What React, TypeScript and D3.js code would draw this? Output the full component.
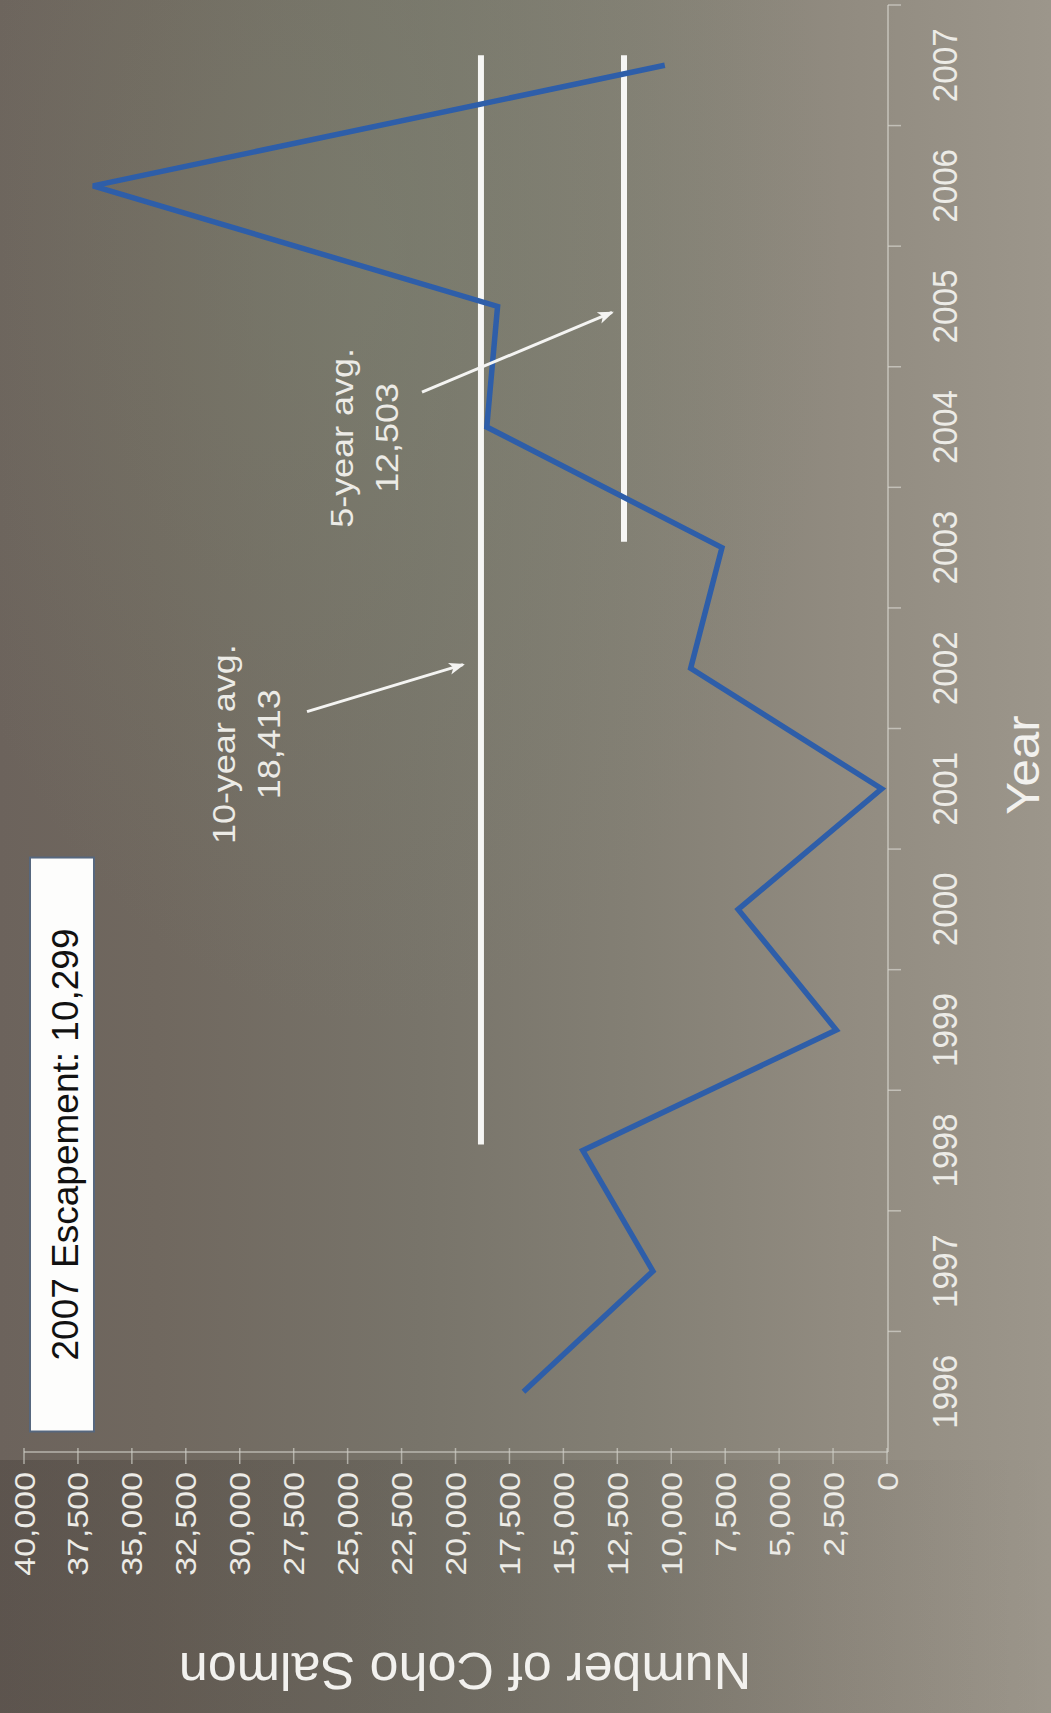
import React from "react";
import * as d3 from "d3";

// ---------- data ----------
const years = [1996, 1997, 1998, 1999, 2000, 2001, 2002, 2003, 2004, 2005, 2006, 2007];
const escapement = [16850, 10850, 14100, 2350, 6900, 250, 9100, 7650, 18550, 18050, 36800, 10299];
const valueTicks = d3.range(0, 40001, 2500);
const avgNames = ["10-year avg.", "5-year avg."];
const avgValueText = ["18,413", "12,503"];
const avgLevelDrawn = [18820, 12190];
const avgStartYear = [1998, 2003];
const avgEndYear = [2007, 2007];
const boxText = "2007 Escapement: 10,299";
const valueTitle = "Number of Coho Salmon";
const yearTitle = "Year";

// ---------- layout ----------
const W = 1051;
const H = 1713;
const FONT = "'Liberation Sans', Arial, Helvetica, sans-serif";

const xVal = d3.scaleLinear().domain([0, 40000]).range([887, 24]);
const yBand = d3.scaleBand<number>().domain(years).range([1452, 5]);
const yLin = d3.scaleLinear().domain([1995.5, 2007.5]).range([1452, 5]);
const bw = yBand.bandwidth();
const yMid = (yr: number) => (yBand(yr) as number) + bw / 2;

const fmt = d3.format(",");

type RTProps = {
  x: number; y: number; angle?: number; sx?: number; fs: number;
  anchor?: string; fill?: string; dy?: string; children: React.ReactNode;
};
const RText = ({ x, y, angle = -90, sx = 1, fs, anchor = "middle", fill = "#ecebe6", dy, children }: RTProps) => (
  <text
    transform={`translate(${x},${y}) rotate(${angle}) scale(${sx},1)`}
    fontSize={fs}
    textAnchor={anchor}
    fill={fill}
    dy={dy}
    fontFamily={FONT}
  >
    {children}
  </text>
);

export default function App() {
  const line = d3
    .line<number>()
    .x((d) => xVal(d))
    .y((_, i) => yMid(years[i]));

  const axisY = 1452;
  const axisX = 888;

  // annotation anchors (data space)
  const ann = [
    { textYear: 2001.37, base1: 30220, base2: 28135, from: [26883, 2001.64], to: [19652, 2002.03] },
    { textYear: 2003.91, base1: 24750, base2: 22665, from: [21553, 2004.29], to: [12746, 2004.95] },
  ];

  return (
    <div style={{ position: "absolute", left: 0, top: 0 }}>
      <svg width={W} height={H} style={{ display: "block" }}>
        <defs>
          <linearGradient id="bgH" x1="0" y1="0" x2="1" y2="0">
            <stop offset="0" stopColor="#6c635c" />
            <stop offset="0.15" stopColor="#70685f" />
            <stop offset="0.4" stopColor="#78746a" />
            <stop offset="0.6" stopColor="#837f74" />
            <stop offset="0.8" stopColor="#918b80" />
            <stop offset="1" stopColor="#9c968b" />
          </linearGradient>
          <radialGradient id="greenTint" cx="0.35" cy="0.15" r="0.45">
            <stop offset="0" stopColor="#7f8a74" stopOpacity="0.35" />
            <stop offset="1" stopColor="#7f8a74" stopOpacity="0" />
          </radialGradient>
          <linearGradient id="bottomFade" x1="0" y1="0" x2="1" y2="0">
            <stop offset="0" stopColor="#1e1915" stopOpacity="0.2" />
            <stop offset="0.6" stopColor="#1e1915" stopOpacity="0.1" />
            <stop offset="1" stopColor="#1e1915" stopOpacity="0" />
          </linearGradient>
          <marker id="arrow" markerUnits="userSpaceOnUse" markerWidth="16" markerHeight="14"
            refX="14" refY="7" orient="auto">
            <path d="M0,1 L16,7 L0,13 L4,7 Z" fill="#f4f4f2" />
          </marker>
        </defs>

        {/* background */}
        <rect x={0} y={0} width={W} height={H} fill="url(#bgH)" />
        <rect x={0} y={0} width={W} height={H} fill="url(#greenTint)" />
        <rect x={0} y={1460} width={W} height={H - 1460} fill="url(#bottomFade)" />

        {/* value axis (horizontal on screen) */}
        <line x1={xVal(0) + 1} x2={xVal(40000)} y1={axisY} y2={axisY} stroke="#cfcdc6" strokeOpacity={0.75} strokeWidth={1.5} />
        {valueTicks.map((v) => (
          <line key={"vt" + v} x1={xVal(v)} x2={xVal(v)} y1={axisY - 4} y2={axisY + 12}
            stroke="#cfcdc6" strokeOpacity={0.7} strokeWidth={1.5} />
        ))}
        {valueTicks.map((v) => (
          <RText key={"vl" + v} x={xVal(v)} y={1472} fs={30} sx={1.13} anchor="end" dy="0.35em">
            {fmt(v)}
          </RText>
        ))}

        {/* year axis (vertical on screen) */}
        <line x1={axisX} x2={axisX} y1={5} y2={axisY} stroke="#d6d4cd" strokeOpacity={0.75} strokeWidth={1.5} />
        {years.map((yr) => (
          <line key={"yt" + yr} x1={axisX} x2={axisX + 13} y1={yBand(yr) as number} y2={yBand(yr) as number}
            stroke="#d6d4cd" strokeOpacity={0.7} strokeWidth={1.5} />
        ))}
        {years.map((yr) => (
          <RText key={"yl" + yr} x={957} y={yMid(yr)} fs={35} sx={0.95}>
            {String(yr)}
          </RText>
        ))}

        {/* axis titles */}
        <RText x={1039} y={765} fs={46} sx={1.07} fill="#f2f1ee">{yearTitle}</RText>
        <RText x={465} y={1653} angle={180} fs={52} fill="#f2f1ee">{valueTitle}</RText>

        {/* average lines */}
        {avgNames.map((n, i) => (
          <line key={"avg" + i}
            x1={xVal(avgLevelDrawn[i])} x2={xVal(avgLevelDrawn[i])}
            y1={yMid(avgStartYear[i]) - 6} y2={yMid(avgEndYear[i]) - 10}
            stroke="#f6f6f4" strokeWidth={6} />
        ))}

        {/* data line */}
        <path d={line(escapement) as string} fill="none" stroke="#2e5ea9" strokeWidth={5.5}
          strokeLinejoin="miter" strokeLinecap="butt" />

        {/* annotations */}
        {ann.map((a, i) => (
          <g key={"ann" + i}>
            <line x1={xVal(a.from[0])} y1={yLin(a.from[1])} x2={xVal(a.to[0])} y2={yLin(a.to[1])}
              stroke="#f4f4f2" strokeWidth={3} markerEnd="url(#arrow)" />
            <RText x={xVal(a.base1)} y={yLin(a.textYear)} fs={31} sx={1.16}>{avgNames[i]}</RText>
            <RText x={xVal(a.base2)} y={yLin(a.textYear)} fs={31} sx={1.16}>{avgValueText[i]}</RText>
          </g>
        ))}

        {/* 2007 escapement box */}
        <rect x={xVal(39722)} y={yLin(2000.43)} width={xVal(36756) - xVal(39722)} height={yLin(1995.67) - yLin(2000.43)}
          fill="#fdfdfc" stroke="#56677e" strokeWidth={2} />
        <RText x={xVal(37500)} y={(yLin(2000.43) + yLin(1995.67)) / 2} fs={37} fill="#111">
          {boxText}
        </RText>
      </svg>
    </div>
  );
}
